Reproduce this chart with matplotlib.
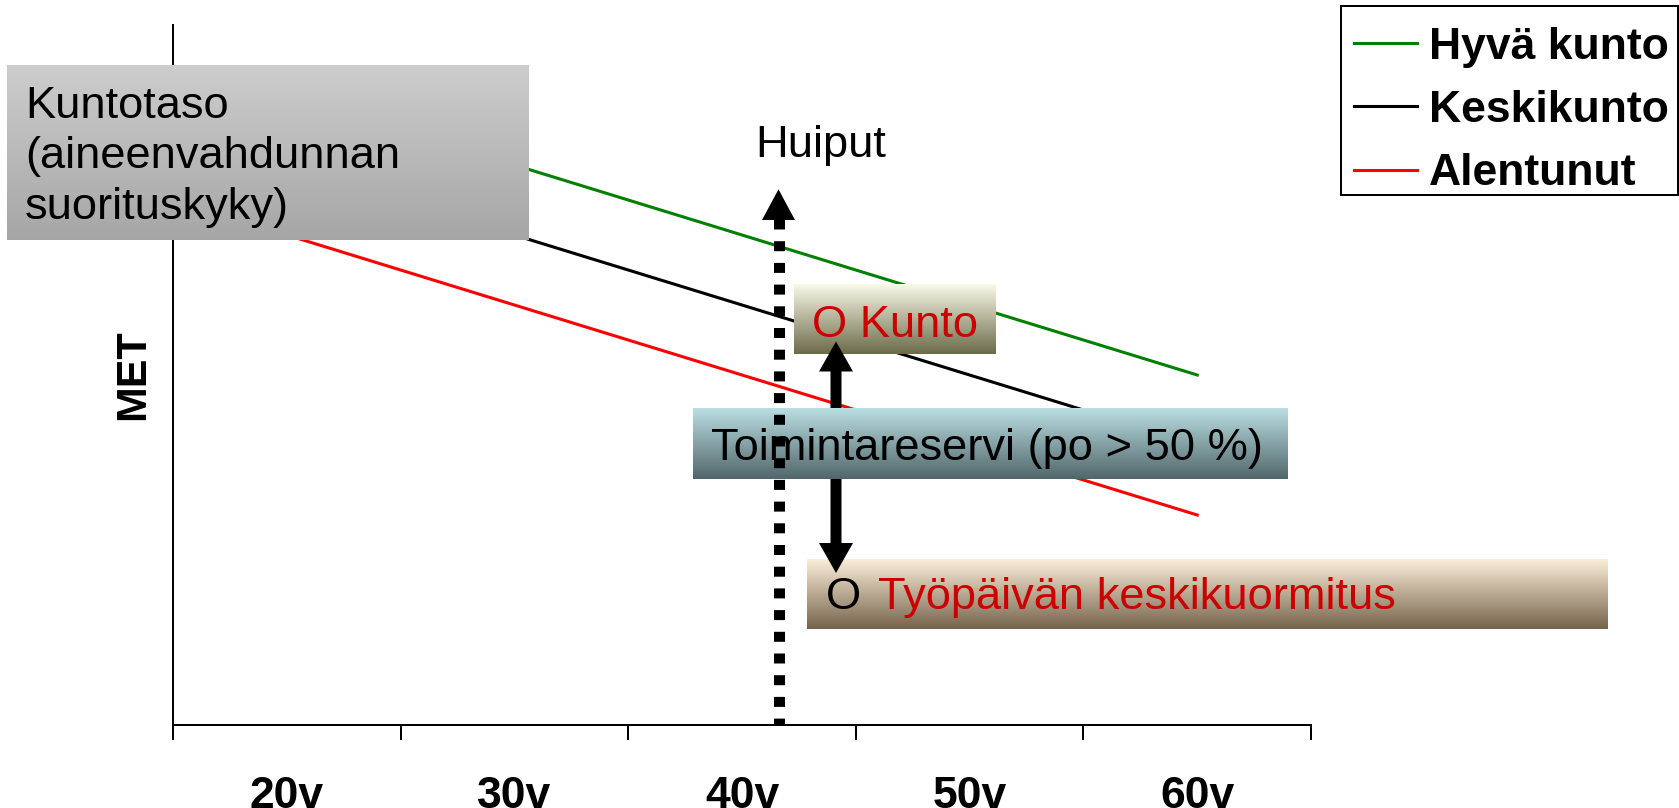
import numpy as np
import matplotlib
matplotlib.use('Agg')
import matplotlib.pyplot as plt
import matplotlib.colors as mcolors
from matplotlib.patches import FancyArrow, Rectangle

plt.rcParams['font.family'] = ['Liberation Sans', 'DejaVu Sans']

# Fitness level (MET) by age group
AGES = ['20v', '30v', '40v', '50v', '60v']
HYVA_KUNTO = [90, 80, 70, 60, 50]
KESKIKUNTO = [80, 70, 60, 50, 40]
ALENTUNUT = [70, 60, 50, 40, 30]

SERIES_NAMES = ['Hyvä kunto', 'Keskikunto', 'Alentunut']
SERIES_COLORS = ['#008000', '#000000', '#ff0000']

W, H = 1679, 808
DPI = 100
FS = 32.6
TEXT_RED = '#cc0000'


def px_to_pt(px):
    return px * 72 / DPI


def gradient_box(ax, x0, y0, x1, y1, top, bottom, zorder=2):
    c0 = np.array(mcolors.to_rgb(top))
    c1 = np.array(mcolors.to_rgb(bottom))
    t = np.linspace(0, 1, 256)[:, None, None]
    img = c0 * (1 - t) + c1 * t
    ax.imshow(img, extent=(x0, x1, y1, y0), aspect='auto',
              interpolation='bilinear', zorder=zorder)


fig = plt.figure(figsize=(W / DPI, H / DPI), dpi=DPI)
fig.patch.set_facecolor('white')

# --- chart area -------------------------------------------------------------
ax = fig.add_axes([173 / W, 1 - 725 / H, (1311 - 173) / W, 700 / H])
xpos = np.arange(len(AGES)) + 0.5
for name, values, color in zip(SERIES_NAMES, [HYVA_KUNTO, KESKIKUNTO, ALENTUNUT], SERIES_COLORS):
    ax.plot(xpos, values, color=color, lw=2.2, label=name)

ax.set_xlim(0, len(AGES))
ax.set_ylim(0, 100)
for side in ['top', 'right']:
    ax.spines[side].set_visible(False)
for side in ['left', 'bottom']:
    ax.spines[side].set_linewidth(px_to_pt(2))
ax.set_yticks([])
ax.set_xticks(xpos)
ax.set_xticklabels(AGES, fontsize=32, fontweight='bold')
ax.set_xticks(np.arange(len(AGES) + 1), minor=True)
ax.tick_params(axis='x', which='major', length=0, pad=px_to_pt(51))
ax.tick_params(axis='x', which='minor', length=px_to_pt(15),
               width=px_to_pt(2), direction='out')
ax.set_ylabel('MET', fontsize=31, fontweight='bold')
ax.yaxis.set_label_coords(-20 / 1138, 0.5)

# legend entries without frame; the box around them is drawn separately
fig.legend(loc='upper left', bbox_to_anchor=(1341 / W, 1 - 13.5 / H),
           borderaxespad=0, prop=dict(size=32, weight='bold'),
           handlelength=1.4, handletextpad=0.27, borderpad=0.3,
           labelspacing=0.5, frameon=False)

# --- annotation layer in pixel coordinates ----------------------------------
ov = fig.add_axes([0, 0, 1, 1])
ov.set_axis_off()
ov.patch.set_visible(False)

ov.add_patch(Rectangle((1341, 5.7), 336.5, 189.3, fill=False,
                       edgecolor='black', lw=px_to_pt(2), zorder=5))

gradient_box(ov, 7, 65, 528.5, 240, '#cdcdcd', '#a6a6a6')
ov.text(25, 86, 'Kuntotaso\n(aineenvahdunnan\nsuorituskyky)', fontsize=FS,
        ha='left', va='top', linespacing=1.29, zorder=3)

gradient_box(ov, 793.5, 285, 995.5, 354.3, '#f8fae8', '#6c6a4a', zorder=1)
ov.text(812, 336.7, 'O Kunto', fontsize=FS, color=TEXT_RED,
        ha='left', va='baseline', zorder=3)

gradient_box(ov, 807, 559.3, 1608, 629.3, '#fbeed9', '#76634c', zorder=1)
t_o = ov.text(826, 609.3, 'O', fontsize=FS, ha='left', va='baseline', zorder=3)
ov.annotate('Työpäivän keskikuormitus', xy=(1, 0), xycoords=t_o,
            xytext=(px_to_pt(16.5), 0), textcoords='offset points',
            fontsize=FS, color=TEXT_RED, ha='left', va='bottom', zorder=3)

# double arrow: fitness vs. average workload, under the reserve box
ARROW_X, ARROW_MID = 836, 457
for tip in (341.5, 573):
    ov.add_patch(FancyArrow(ARROW_X, ARROW_MID, 0, tip - ARROW_MID, width=11,
                            head_width=34, head_length=30,
                            length_includes_head=True, color='black', lw=0, zorder=1.5))

gradient_box(ov, 693, 408, 1287.7, 478.7, '#badfe3', '#52666a')
ov.text(711, 460, 'Toimintareservi (po > 50 %)', fontsize=FS,
        ha='left', va='baseline', zorder=3)

# dotted "peaks" arrow drawn over the boxes
DOT_X = 778.5
ov.plot([DOT_X, DOT_X], [218.5, 725], color='black', lw=px_to_pt(11),
        linestyle=(0, (10 / 11, 11.7 / 11)), dash_capstyle='butt', zorder=4)
ov.add_patch(FancyArrow(DOT_X, 220, 0, -30.7, width=0.01, head_width=33,
                        head_length=30.7, length_includes_head=True,
                        color='black', lw=0, zorder=4))
ov.text(821, 157.3, 'Huiput', fontsize=FS, ha='center', va='baseline', zorder=3)

ov.set_xlim(0, W)
ov.set_ylim(H, 0)

fig.savefig('out.png', dpi=DPI)
